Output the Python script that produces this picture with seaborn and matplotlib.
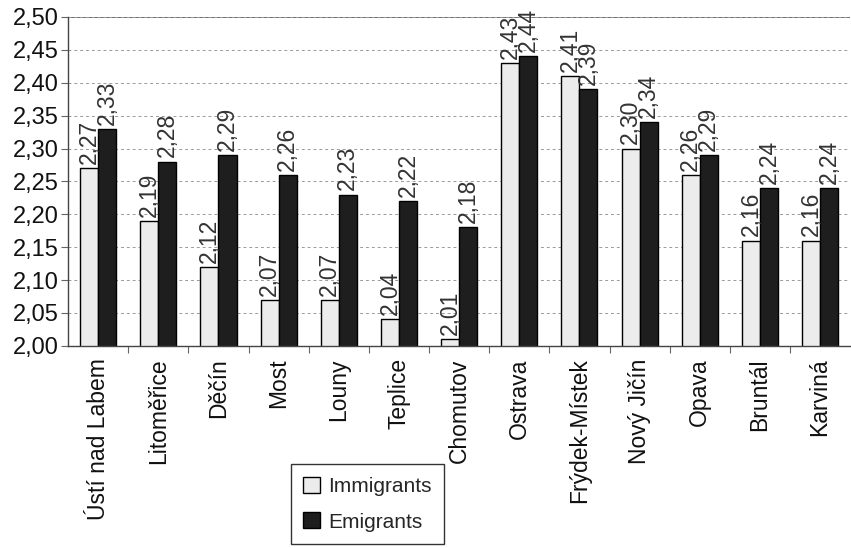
import matplotlib
matplotlib.use("Agg")
import matplotlib.pyplot as plt
from matplotlib.ticker import FixedLocator, FuncFormatter
import seaborn as sns
import pandas as pd
import numpy as np

districts = ["Ústí nad Labem", "Litoměřice", "Děčín", "Most", "Louny", "Teplice",
             "Chomutov", "Ostrava", "Frýdek-Místek", "Nový Jičín", "Opava",
             "Bruntál", "Karviná"]
immigrants = [2.27, 2.19, 2.12, 2.07, 2.07, 2.04, 2.01, 2.43, 2.41, 2.30, 2.26, 2.16, 2.16]
emigrants = [2.33, 2.28, 2.29, 2.26, 2.23, 2.22, 2.18, 2.44, 2.39, 2.34, 2.29, 2.24, 2.24]
series = ["Immigrants", "Emigrants"]

df = pd.DataFrame({
    "district": districts * 2,
    "value": immigrants + emigrants,
    "type": [series[0]] * len(districts) + [series[1]] * len(districts),
})

sns.set_theme(style="white")
plt.rcParams["font.family"] = ["Liberation Sans", "DejaVu Sans"]

fig = plt.figure(figsize=(8.51, 5.48), dpi=100)
ax = fig.add_axes([0.080, 0.369, 0.919, 0.600])

sns.barplot(data=df, x="district", y="value", hue="type", order=districts,
            hue_order=series, palette=["#ececec", "#1e1e1e"], width=0.6,
            edgecolor="black", linewidth=1.0, saturation=1, ax=ax, legend=True)

ax.set_ylim(2.0, 2.5)
ax.set_xlim(-0.5, len(districts) - 0.5)
ax.yaxis.set_major_locator(FixedLocator(np.round(np.arange(2.0, 2.501, 0.05), 2)))
ax.yaxis.set_major_formatter(FuncFormatter(lambda v, p: f"{v:.2f}".replace(".", ",")))
ax.tick_params(axis="y", labelsize=17, length=5, width=0.8, color="#666666",
               direction="out", left=True, pad=2, labelcolor="#111111")
ax.grid(axis="y", color="#9a9a9a", linestyle=(0, (3, 3)), linewidth=0.7)
ax.set_axisbelow(True)

# category labels at bar groups, tick marks at group boundaries
ax.set_xticks(range(len(districts)))
ax.set_xticklabels(districts, rotation=90, fontsize=16.5, color="#111111")
ax.tick_params(axis="x", length=0, pad=9)
ax.set_xticks(np.arange(0.5, len(districts) - 0.5, 1.0), minor=True)
ax.tick_params(axis="x", which="minor", length=5, width=0.8, color="#666666",
               direction="out", bottom=True)

ax.set_xlabel("")
ax.set_ylabel("")
for side in ["top", "right"]:
    ax.spines[side].set_visible(False)
for side in ["left", "bottom"]:
    ax.spines[side].set_color("#444444")
    ax.spines[side].set_linewidth(1.0)
ax.axhline(2.5, color="#555555", linewidth=1.2, zorder=0.5)

for cont, vals in zip(ax.containers, [immigrants, emigrants]):
    ax.bar_label(cont, labels=[f"{v:.2f}".replace(".", ",") for v in vals],
                 rotation=90, padding=3, fontsize=16.5, color="#333333")

ax.get_legend().remove()
handles = [plt.Rectangle((0, 0), 1, 1, facecolor=c, edgecolor="black", linewidth=1.0)
           for c in ["#ececec", "#1e1e1e"]]
leg = fig.legend(handles, series, loc="center", bbox_to_anchor=(0.432, 0.080),
                 frameon=True, fancybox=False, edgecolor="black",
                 handlelength=0.8, handleheight=0.8, handletextpad=0.4,
                 labelspacing=0.8, borderpad=0.6,
                 prop={"family": ["Liberation Sans Narrow", "Liberation Sans"], "size": 15})
leg.get_frame().set_linewidth(1.0)

fig.savefig("out.png", dpi=100)
